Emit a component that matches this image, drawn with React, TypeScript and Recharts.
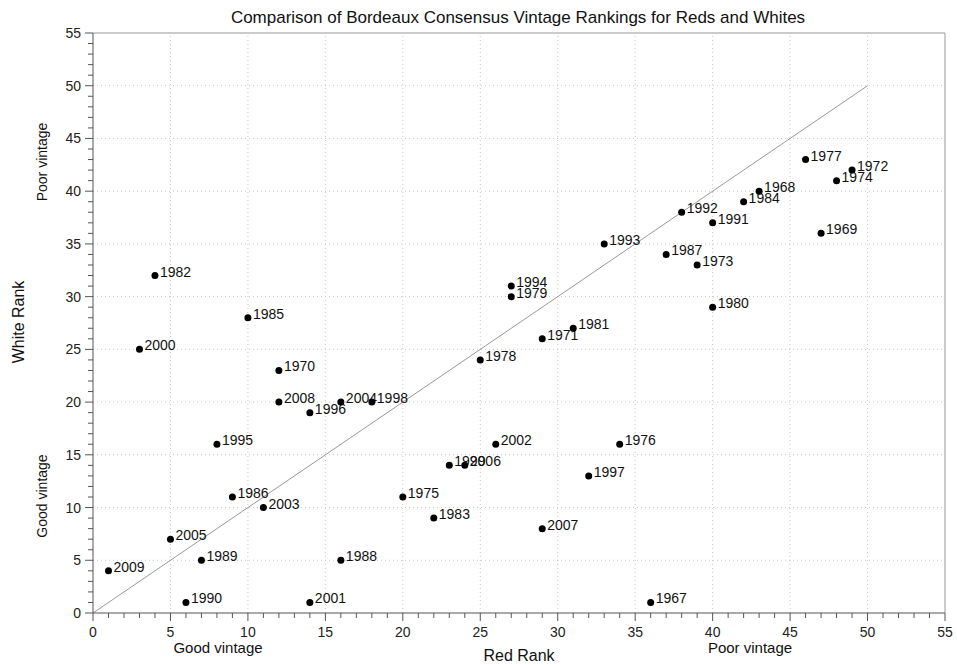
import {
  ScatterChart,
  Scatter,
  XAxis,
  YAxis,
  ReferenceLine,
} from 'recharts';

const years = [
  '1982', '2000', '1985', '1970', '2008', '1996', '2004', '1998', '1995', '1986',
  '2003', '2005', '1989', '2009', '1990', '2001', '1988', '1975', '1983', '1999',
  '2006', '2002', '1978', '1994', '1979', '1971', '1981', '1993', '2007', '1997',
  '1976', '1967', '1987', '1973', '1992', '1991', '1980', '1984', '1968', '1977',
  '1972', '1974', '1969',
];
const redRank = [
  4, 3, 10, 12, 12, 14, 16, 18, 8, 9,
  11, 5, 7, 1, 6, 14, 16, 20, 22, 23,
  24, 26, 25, 27, 27, 29, 31, 33, 29, 32,
  34, 36, 37, 39, 38, 40, 40, 42, 43, 46,
  49, 48, 47,
];
const whiteRank = [
  32, 25, 28, 23, 20, 19, 20, 20, 16, 11,
  10, 7, 5, 4, 1, 1, 5, 11, 9, 14,
  14, 16, 24, 31, 30, 26, 27, 35, 8, 13,
  16, 1, 34, 33, 38, 37, 29, 39, 40, 43,
  42, 41, 36,
];
const rankTicks = Array.from({ length: 56 }, (_, i) => i);
const gridValues = [5, 10, 15, 20, 25, 30, 35, 40, 45, 50];

const data = years.map((year, i) => ({ year, red: redRank[i], white: whiteRank[i] }));

const FONT = '"Liberation Sans", Arial, Helvetica, sans-serif';
const AXIS = '#555';

const XTick = ({ x, y, payload }: any) => {
  const major = payload.value % 5 === 0;
  return (
    <g>
      <line x1={x} y1={y} x2={x} y2={y + (major ? 8 : 5)} stroke={AXIS} />
      {major && (
        <text x={x} y={y + 24} textAnchor="middle" fontSize={14} fill="#222" fontFamily={FONT}>
          {payload.value}
        </text>
      )}
    </g>
  );
};

const YTick = ({ x, y, payload }: any) => {
  const major = payload.value % 5 === 0;
  return (
    <g>
      <line x1={x - (major ? 8 : 5)} y1={y} x2={x} y2={y} stroke={AXIS} />
      {major && (
        <text x={x - 12} y={y + 5} textAnchor="end" fontSize={14} fill="#222" fontFamily={FONT}>
          {payload.value}
        </text>
      )}
    </g>
  );
};

const VintagePoint = ({ cx, cy, payload }: any) => (
  <g>
    <circle cx={cx} cy={cy} r={3.5} fill="#000" />
    <text x={cx + 5} y={cy + 1} fontSize={14} fill="#111" fontFamily={FONT}>
      {payload.year}
    </text>
  </g>
);

export default function App() {
  return (
    <div style={{ position: 'absolute', left: 0, top: 0, width: 957, height: 665, background: '#fff' }}>
      <ScatterChart width={957} height={665} margin={{ top: 33, right: 12, left: 0, bottom: 0 }}>
        <XAxis
          type="number"
          dataKey="red"
          domain={[0, 55]}
          ticks={rankTicks}
          interval={0}
          tick={<XTick />}
          tickLine={false}
          tickSize={0}
          tickMargin={0}
          height={52}
          stroke={AXIS}
        />
        <YAxis
          type="number"
          dataKey="white"
          domain={[0, 55]}
          ticks={rankTicks}
          interval={0}
          tick={<YTick />}
          tickLine={false}
          tickSize={0}
          tickMargin={0}
          width={93}
          stroke={AXIS}
        />
        {gridValues.map((v) => (
          <ReferenceLine key={'gx' + v} x={v} stroke="#c8c8c8" strokeDasharray="1 3" />
        ))}
        {gridValues.map((v) => (
          <ReferenceLine key={'gy' + v} y={v} stroke="#c8c8c8" strokeDasharray="1 3" />
        ))}
        <ReferenceLine y={55} stroke="#999" />
        <ReferenceLine x={55} stroke="#999" />
        <ReferenceLine
          segment={[{ x: 0, y: 0 }, { x: 50, y: 50 }]}
          stroke="#999"
          strokeWidth={1}
        />
        <Scatter data={data} shape={<VintagePoint />} isAnimationActive={false} />
      </ScatterChart>
      <svg
        width={957}
        height={665}
        style={{ position: 'absolute', left: 0, top: 0, pointerEvents: 'none' }}
        fontFamily={FONT}
      >
        <text x={518} y={23} textAnchor="middle" fontSize={17} fill="#111">
          Comparison of Bordeaux Consensus Vintage Rankings for Reds and Whites
        </text>
        <text x={519} y={661} textAnchor="middle" fontSize={16} fill="#111">
          Red Rank
        </text>
        <text x={218} y={653} textAnchor="middle" fontSize={15} fill="#111">
          Good vintage
        </text>
        <text x={750} y={653} textAnchor="middle" fontSize={15} fill="#111">
          Poor vintage
        </text>
        <text transform="translate(24,322) rotate(-90)" textAnchor="middle" fontSize={16} fill="#111">
          White Rank
        </text>
        <text transform="translate(47,162) rotate(-90)" textAnchor="middle" fontSize={14} fill="#111">
          Poor vintage
        </text>
        <text transform="translate(47,496) rotate(-90)" textAnchor="middle" fontSize={14} fill="#111">
          Good vintage
        </text>
      </svg>
    </div>
  );
}
